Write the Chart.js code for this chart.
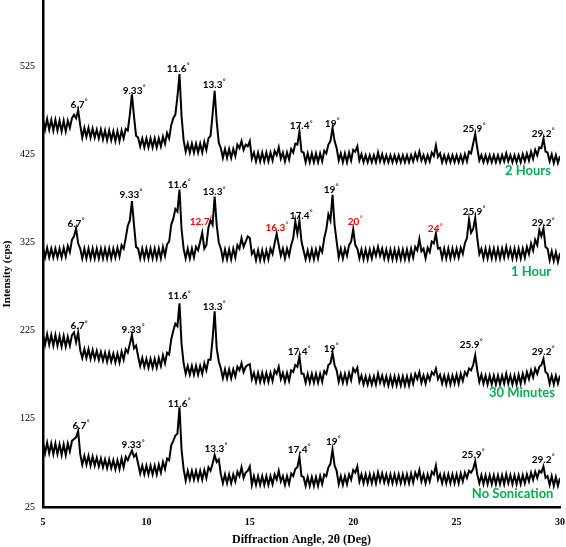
<!DOCTYPE html>
<html>
<head>
<meta charset="utf-8">
<script src="https://cdn.jsdelivr.net/npm/chart.js@4"></script>
<style>
  html, body { margin: 0; padding: 0; background: #fff; }
</style>
</head>
<body>
<canvas id="xrd" width="566" height="547"></canvas>
<script>
// scan grid: 5 to 30 deg, one reading every 0.1 deg
const angleStart = 5;
const angleStep = 0.1;

// intensities (cps), one row per degree
const twoHours = [
  465,453,465,453,464,452,464,452,463,451,
  463,451,463,455,466,470,466,475,458,444,
  455,445,455,444,454,444,453,443,453,442,
  452,441,452,441,451,440,451,440,452,443,
  454,452,470,493,468,446,444,434,443,433,
  443,433,443,433,443,433,443,434,445,437,
  449,443,458,466,470,490,516,468,441,428,
  437,427,437,427,437,427,437,427,439,430,
  443,446,470,497,462,438,432,421,431,421,
  431,421,431,423,436,432,440,430,436,434,
  440,420,427,417,427,417,427,417,427,417,
  427,418,429,424,433,420,427,417,427,419,
  431,427,437,436,451,428,427,416,426,416,
  426,416,426,416,426,417,429,426,436,440,
  455,440,432,418,426,416,426,416,427,418,
  430,428,434,418,425,416,424,416,424,416,
  424,416,427,417,425,416,424,416,424,416,
  424,416,424,416,424,416,424,416,424,417,
  426,419,428,418,424,416,424,417,427,423,
  435,422,426,416,424,416,424,416,424,416,
  424,416,424,416,425,417,428,426,437,448,
  432,418,424,416,424,416,424,416,424,416,
  424,416,424,417,426,417,424,416,424,416,
  424,416,425,417,426,418,428,420,430,424,
  433,432,443,428,427,417,425,415,424,415,
  423
];

const oneHour = [
  319,308,319,308,318,308,318,308,318,308,
  319,309,321,314,328,332,341,324,318,307,
  318,307,318,307,318,307,318,307,318,307,
  318,307,318,307,318,308,319,309,322,318,
  330,344,350,372,345,320,318,307,318,307,
  318,307,318,307,318,307,318,307,320,310,
  323,326,345,352,363,360,385,340,318,307,
  318,307,318,308,320,316,326,336,318,322,
  342,350,345,377,345,325,318,306,317,306,
  317,306,318,308,322,318,330,320,326,332,
  330,312,316,305,316,305,316,305,316,306,
  318,312,324,335,322,310,318,307,318,310,
  322,330,349,335,350,326,316,306,316,306,
  317,306,317,307,319,314,330,340,357,350,
  379,345,326,308,318,307,318,310,322,326,
  340,322,318,307,317,306,317,306,317,307,
  318,310,320,310,318,307,317,306,317,306,
  317,306,317,306,317,306,317,306,318,308,
  320,316,329,315,318,307,319,314,326,324,
  335,318,319,307,318,307,318,307,318,308,
  318,308,319,312,324,330,351,336,340,353,
  330,312,318,307,318,307,318,307,318,307,
  318,307,318,308,320,309,318,307,318,307,
  318,307,318,308,320,312,324,316,328,322,
  339,332,341,320,318,305,315,304,314,303,
  313
];

const thirtyMinutes = [
  221,209,221,209,220,208,220,208,219,207,
  219,207,218,208,220,223,212,223,203,194,
  204,194,204,193,203,193,202,192,201,191,
  200,190,200,190,199,189,199,189,201,192,
  204,200,210,220,205,208,196,185,194,184,
  193,183,193,183,193,183,194,185,197,188,
  200,198,215,225,233,230,256,210,188,176,
  185,175,185,175,185,175,185,176,188,180,
  192,192,215,247,205,190,182,171,181,171,
  181,171,181,173,184,180,188,178,184,186,
  187,170,177,167,177,167,177,167,177,167,
  177,168,180,176,184,170,177,167,177,168,
  180,178,186,184,196,176,176,166,176,166,
  176,166,176,166,176,167,179,176,186,188,
  200,186,180,167,176,166,176,166,177,169,
  182,178,183,167,174,164,173,164,173,164,
  173,164,176,166,174,164,173,163,173,163,
  173,163,173,163,173,163,173,163,174,165,
  176,170,178,166,174,165,175,169,178,175,
  182,170,175,165,174,164,174,164,174,165,
  175,165,176,168,178,174,182,180,186,197,
  180,167,175,165,174,164,174,164,174,164,
  174,164,174,165,176,165,174,164,174,164,
  175,165,176,167,178,170,180,172,182,176,
  184,186,193,178,176,165,174,164,174,165,
  174
];

const noSonication = [
  98,86,98,86,97,85,97,85,96,84,
  96,84,97,88,100,102,104,111,85,73,
  83,73,83,72,82,72,81,71,80,70,
  79,69,79,69,78,68,78,68,80,70,
  82,78,84,89,82,85,74,63,72,62,
  72,62,72,62,72,62,73,64,76,68,
  80,78,95,100,106,108,138,90,68,55,
  66,56,66,56,66,56,66,56,67,58,
  70,66,74,84,76,79,62,52,62,52,
  62,52,62,54,65,60,70,58,64,66,
  71,50,60,50,60,50,60,50,60,50,
  60,51,62,56,66,54,60,50,60,51,
  63,60,68,70,82,60,59,49,59,49,
  59,49,59,49,60,51,62,60,70,74,
  90,72,66,51,60,50,60,51,62,56,
  67,64,71,54,62,52,62,52,62,52,
  62,52,64,54,63,53,62,52,62,52,
  62,52,62,52,62,52,62,52,63,53,
  64,58,67,54,62,52,62,54,65,62,
  72,56,62,52,62,52,62,52,62,52,
  62,52,63,54,64,58,66,64,68,77,
  62,52,61,51,61,51,61,51,61,51,
  61,51,61,51,62,52,61,51,61,51,
  61,51,61,52,62,54,64,56,65,58,
  66,64,71,58,60,50,60,49,59,49,
  58
];

const seriesNames = ["2 Hours", "1 Hour", "30 Minutes", "No Sonication"];
const yTicks = [25, 125, 225, 325, 425, 525];

// peak labels: text and where they sit (angle, cps)
const peaks2h = ["6.7", "9.33", "11.6", "13.3", "17.4", "19", "25.9", "29.2"];
const peaksAt2h = [[6.73, 481], [9.39, 497], [11.52, 522], [13.26, 504], [17.47, 457], [18.97, 460], [25.83, 454], [29.17, 448]];
const peaks1h = ["6.7", "9.33", "11.6", "12.7", "13.3", "16.3", "17.4", "19", "20", "24", "25.9", "29.2"];
const peaksAt1h = [[6.58, 346], [9.24, 379], [11.57, 391], [12.63, 349], [13.26, 382], [16.3, 342], [17.47, 355], [18.92, 385], [20.08, 349], [23.95, 340], [25.83, 360], [29.17, 347]];
const newPeaks1h = ["12.7", "16.3", "20", "24"];
const peaks30m = ["6.7", "9.33", "11.6", "13.3", "17.4", "19", "25.9", "29.2"];
const peaksAt30m = [[6.73, 230], [9.34, 226], [11.57, 264], [13.26, 252], [17.37, 201], [18.92, 205], [25.69, 209], [29.17, 201]];
const peaksNs = ["6.7", "9.33", "11.6", "13.3", "17.4", "19", "25.9", "29.2"];
const peaksAtNs = [[6.82, 117], [9.34, 95], [11.57, 142], [13.35, 91], [17.37, 90], [19.02, 99], [25.79, 84], [29.17, 79]];
const namesAt = [[28.45, 406], [28.6, 292], [28.16, 154], [27.71, 40]];

const toPoints = vals => vals.map((v, i) => ({ x: +(angleStart + i * angleStep).toFixed(2), y: v }));

const GREEN = "#00b050";
const RED = "#ff0000";

// peak + series labels drawn on top of the traces
const labelPlugin = {
  id: "peakLabels",
  afterDatasetsDraw(chart) {
    const { ctx } = chart;
    const xs = chart.scales.x, ys = chart.scales.y;
    const sets = [
      { text: peaks2h, at: peaksAt2h, red: [] },
      { text: peaks1h, at: peaksAt1h, red: newPeaks1h },
      { text: peaks30m, at: peaksAt30m, red: [] },
      { text: peaksNs, at: peaksAtNs, red: [] }
    ];
    ctx.save();
    ctx.textBaseline = "middle";
    ctx.textAlign = "left";
    sets.forEach(s => {
      s.text.forEach((t, i) => {
        const px = xs.getPixelForValue(s.at[i][0]);
        const py = ys.getPixelForValue(s.at[i][1]);
        ctx.font = "bold 10px Lato";
        const w = ctx.measureText(t).width;
        ctx.font = "bold 6px Lato";
        const wd = ctx.measureText("°").width;
        const x0 = px - (w + wd) / 2;
        ctx.fillStyle = s.red.includes(t) ? RED : "#000";
        ctx.font = "bold 10px Lato";
        ctx.fillText(t, x0, py);
        ctx.font = "bold 6px Lato";
        ctx.fillText("°", x0 + w + 0.5, py - 3.5);
      });
    });
    ctx.font = "bold 13px Lato";
    ctx.textAlign = "center";
    ctx.fillStyle = GREEN;
    seriesNames.forEach((n, i) => {
      ctx.fillText(n, xs.getPixelForValue(namesAt[i][0]), ys.getPixelForValue(namesAt[i][1]));
    });
    // y axis title
    ctx.save();
    ctx.translate(7, 274);
    ctx.rotate(-Math.PI / 2);
    ctx.fillStyle = "#000";
    ctx.font = "bold 11px 'Liberation Serif'";
    ctx.fillText("Intensity (cps)", 0, 0);
    ctx.restore();
    ctx.restore();
  }
};

const series = [twoHours, oneHour, thirtyMinutes, noSonication];

new Chart(document.getElementById("xrd"), {
  type: "line",
  data: {
    datasets: series.map((vals, i) => ({
      label: seriesNames[i],
      data: toPoints(vals),
      borderColor: "#000",
      borderWidth: 2,
      pointRadius: 0,
      tension: 0,
      fill: false
    }))
  },
  options: {
    responsive: false,
    animation: false,
    layout: { padding: { top: 0, right: 6, left: 0, bottom: 0 } },
    plugins: { legend: { display: false }, tooltip: { enabled: false } },
    scales: {
      x: {
        type: "linear",
        min: 5,
        max: 30,
        grid: { display: false, drawTicks: false },
        border: { display: true, color: "#000", width: 2.5 },
        ticks: {
          stepSize: 5,
          padding: 9,
          color: "#000",
          maxRotation: 0,
          font: { family: "'Liberation Serif'", size: 10, weight: "bold" }
        },
        title: {
          display: true,
          text: "Diffraction Angle, 2θ (Deg)",
          color: "#000",
          padding: { top: 0, bottom: 0 },
          font: { family: "'Liberation Serif'", size: 12, weight: "bold" }
        },
        afterFit(scale) {
          scale.height = 40;
          scale.paddingLeft = 0;
          scale.paddingRight = 0;
        }
      },
      y: {
        min: 25,
        max: 600,
        grid: { display: false, drawTicks: false },
        border: { display: true, color: "#000", width: 2.5 },
        afterBuildTicks(scale) { scale.ticks = yTicks.map(v => ({ value: v })); },
        ticks: {
          padding: 8,
          color: "#000",
          font: { family: "'Liberation Serif'", size: 10 }
        },
        afterFit(scale) {
          scale.width = 43;
          scale.paddingTop = 0;
          scale.paddingBottom = 0;
        }
      }
    }
  },
  plugins: [labelPlugin]
});
</script>
</body>
</html>
